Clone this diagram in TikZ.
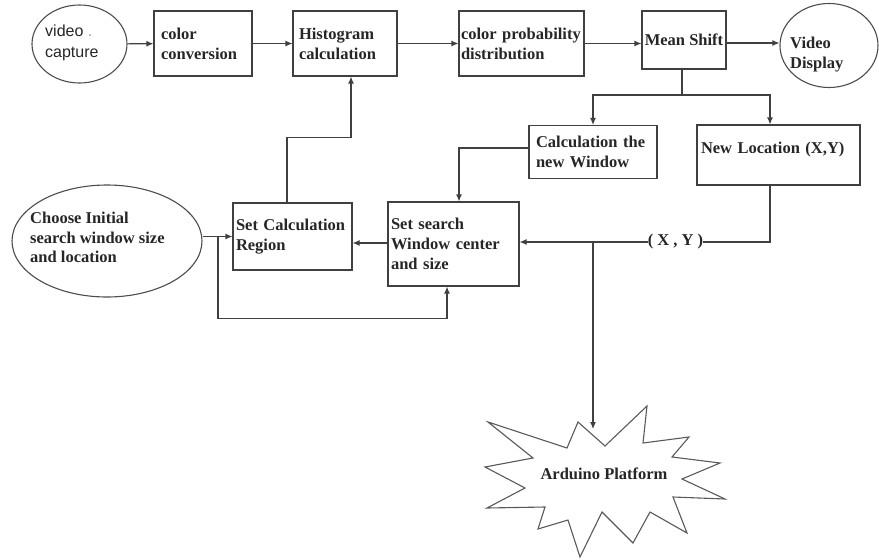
\documentclass[tikz,border=0pt]{standalone}
\usepackage{fontspec}
\setmainfont{Liberation Serif}
\newfontfamily\capfont{Liberation Sans}
\usetikzlibrary{arrows.meta,shapes.geometric}

\tikzset{
  blk/.style={draw=black!75, line width=1.1pt, rectangle, inner sep=0pt, align=left,
    font=\bfseries\fontsize{16.5}{20}\selectfont, text=black!85},
  oval/.style={draw=black!70, line width=1.1pt, ellipse, inner sep=0pt},
  lbl/.style={inner sep=0pt, align=left, font=\bfseries\fontsize{16.5}{20}\selectfont, text=black!85},
  line/.style={draw=black!75, line width=1.1pt},
  arr/.style={line, -{Latex[length=7pt,width=6pt]}},
}

\begin{document}
\begin{tikzpicture}[x=1pt,y=-1pt]
\useasboundingbox (0,0) rectangle (879,560);

% top row
\node[oval, minimum width=95, minimum height=78] (vcap) at (79.5,44) {};
\node[lbl, anchor=west, font=\capfont\fontsize{16}{21}\selectfont] (vcaptxt) at (45,43) {video {\color{black!40}.}\\capture};
\node[blk, minimum width=98, minimum height=65, text width=84] (colconv) at (203,43.5) {color\\conversion};
\node[blk, minimum width=104, minimum height=65, text width=92] (hist) at (345,43.5) {Histogram\\calculation};
\node[blk, minimum width=125, minimum height=65, text width=121] (cpd) at (521.5,43.5) {color probability\\distribution};
\node[blk, minimum width=84, minimum height=58, align=center] (mshift) at (684,40) {Mean Shift};
\node[oval, minimum width=98, minimum height=84] (vdisp) at (829,45.5) {};
\node[lbl, anchor=west] (vdisptxt) at (790,55) {Video\\Display};

% middle
\node[blk, minimum width=128, minimum height=53, text width=114] (calcwin) at (593,152) {Calculation the\\new Window};
\node[blk, minimum width=163, minimum height=60, text width=155, text depth=15pt] (newloc) at (778.5,155) {New Location (X,Y)};
\node[oval, minimum width=190, minimum height=112] (choose) at (107,241) {};
\node[lbl, anchor=west, font=\bfseries\fontsize{16.5}{19.5}\selectfont] (choosetxt) at (30,237.5) {Choose Initial\\search window size\\and location};
\node[blk, minimum width=119, minimum height=67, text width=113] (setcalc) at (292.5,236.5) {Set Calculation\\Region};
\node[blk, minimum width=131, minimum height=84, text width=125] (setsearch) at (453.5,244) {Set search\\Window center\\and size};
\node[lbl] (xy) at (675.5,242) {( X , Y )};

% arduino
\draw[draw=black!65, line width=1.1pt, line join=miter]
  (578,422) -- (605,446) -- (647,406) -- (643,443) -- (689,437) -- (672,457)
  -- (720,463) -- (682,479) -- (725,499) -- (673,497) -- (687,533) -- (650,512)
  -- (633,543) -- (602,512) -- (580,557) -- (568,520) -- (538,529) -- (545,507)
  -- (487,508) -- (525,488) -- (485,467) -- (533,458) -- (488,422) -- (567,448) -- cycle;
\node[lbl] (ard) at (604,474) {Arduino Platform};

\coordinate (split) at (682,95);
\coordinate (branch) at (593,242);
\coordinate (ardtip) at (593,429);
\coordinate (tee) at (218,0);

% connectors
\draw[arr] (vcap) -- (colconv);
\draw[arr] (colconv) -- (hist);
\draw[arr] (hist) -- (cpd);
\draw[arr] (cpd.east) -- (cpd.east -| mshift.west);
\draw[arr] ([yshift=-3pt]mshift.east) -- ([yshift=-3pt]mshift.east -| vdisp.west);
\draw[line] ([xshift=-2pt]mshift.south) -- (split);
\draw[arr] (split) -| (calcwin.north);
\draw[arr] (split) -| ([xshift=-8.5pt]newloc.north);
\draw[arr] ([yshift=4pt]calcwin.west) -| ([xshift=5.5pt]setsearch.north);
\draw[line] ([xshift=-8.5pt]newloc.south) |- (xy.east);
\draw[arr] (xy.west) -- (xy.west -| setsearch.east);
\draw[arr] (branch) -- (ardtip);
\draw[arr] ([yshift=1pt]setsearch.west) -- ([yshift=1pt]setsearch.west -| setcalc.east);
\draw[arr] (setcalc.west -| choose.east) -- (setcalc.west);
\draw[arr] (tee |- setcalc.west) -- ++(0,82) -| ([xshift=-6.5pt]setsearch.south);
\draw[arr] ([xshift=-5.5pt]setcalc.north) -- ++(0,-65) -| ([xshift=6pt]hist.south);
\end{tikzpicture}
\end{document}
